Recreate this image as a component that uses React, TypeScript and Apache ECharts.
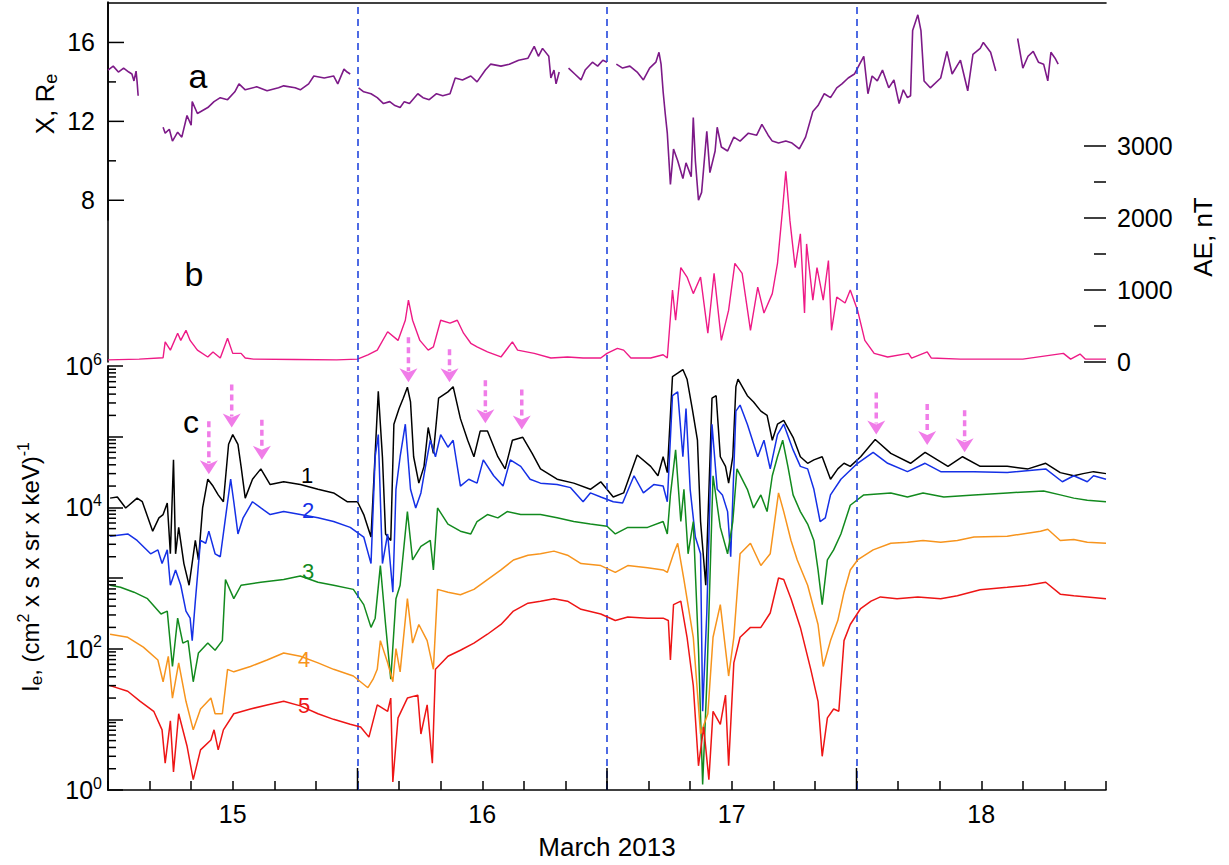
import React, { useEffect, useRef } from 'react';
import * as echarts from 'echarts';

const FONT = '"Liberation Sans", Arial, sans-serif';
const NARROW = '"Liberation Sans Narrow", "Liberation Sans", Arial, sans-serif';

// time axis: hours since 15 March 2013 00:00 UT
const dayTickHours = [12, 36, 60, 84];
const dayLabels = ['15', '16', '17', '18'];
const dayBoundaryHours = [24, 48, 72];

// (a) spacecraft X position, Re (null = data gap)
const xRe: [number, number | null][] = [
  [0.0, 14.6], [0.5, 14.8], [1.0, 14.5], [1.5, 14.7], [2.0, 14.5], [2.3, 14.4], [2.5, 14.05], [2.7, 14.55], [2.8, 14.0], [2.9, 13.3],
  [4.0, null],
  [5.3, 11.7], [5.5, 11.4], [5.9, 11.6], [6.2, 11.0], [6.7, 11.45], [7.1, 11.2], [7.6, 12.3], [8.0, 11.8], [8.1, 13.0], [8.6, 12.4],
  [9.6, 12.7], [10.2, 13.0], [10.8, 13.2], [11.5, 13.1], [12.2, 13.5], [12.6, 13.9], [13.2, 13.6], [14.3, 13.75], [15.3, 13.55],
  [16.4, 13.7], [16.9, 13.8], [18.0, 13.7], [18.5, 13.6], [19.3, 13.9], [19.8, 14.3], [20.8, 14.2], [21.7, 14.3], [22.1, 13.9],
  [22.7, 14.65], [23.0, 14.5], [23.3, 14.4],
  [23.7, null],
  [24.1, 13.7], [24.6, 13.5], [25.3, 13.4], [25.9, 13.2], [26.5, 12.9], [27.1, 13.0], [27.6, 12.8], [28.1, 12.7], [28.5, 13.0],
  [29.0, 12.9], [29.8, 13.4], [30.3, 13.2], [30.9, 13.1], [31.6, 13.4], [32.2, 13.3], [32.9, 13.4], [33.4, 14.2], [34.1, 14.1],
  [34.9, 14.3], [35.5, 14.0], [36.3, 14.6], [36.8, 14.9], [37.8, 14.8], [38.6, 14.9], [39.5, 15.1], [40.4, 15.2], [41.0, 15.8],
  [41.4, 15.3], [41.8, 15.7], [42.4, 15.3], [42.6, 14.2], [42.9, 14.6], [43.1, 13.9], [43.4, 14.5],
  [43.8, null],
  [44.3, 14.7], [44.9, 14.4], [45.5, 14.1], [45.9, 14.6], [46.6, 15.0], [47.1, 14.8], [47.6, 15.1], [48.0, 15.0],
  [48.4, null],
  [48.9, 14.9], [49.5, 14.7], [50.2, 14.8], [50.9, 14.5], [51.5, 14.1], [52.1, 14.7], [52.7, 15.0], [53.0, 15.5], [53.2, 14.9],
  [53.4, 13.5], [53.6, 12.4], [53.8, 11.4], [54.1, 8.8], [54.4, 10.6], [54.8, 10.0], [55.3, 9.1], [55.6, 9.9], [56.1, 9.2],
  [56.3, 12.2], [56.5, 10.0], [56.8, 8.0], [57.1, 8.4], [57.6, 11.5], [57.9, 9.4], [58.4, 10.5], [58.6, 11.7], [59.0, 10.7],
  [59.6, 10.5], [60.2, 11.2], [60.8, 11.0], [61.6, 11.4], [62.4, 11.3], [62.9, 11.85], [63.5, 11.3], [63.9, 11.0], [64.5, 10.9],
  [65.2, 11.0], [65.8, 10.9], [66.5, 10.6], [67.1, 11.2], [67.8, 12.5], [68.3, 12.8], [68.9, 13.4], [69.5, 13.2], [70.1, 13.7],
  [70.6, 13.9], [71.2, 14.2], [71.8, 14.4], [72.3, 14.9], [72.7, 15.3], [73.1, 13.4], [73.5, 14.3], [74.0, 14.05], [74.5, 14.6],
  [75.1, 13.7], [75.6, 14.1], [76.1, 12.9], [76.5, 13.6], [76.9, 13.2], [77.2, 13.3], [77.4, 16.6], [77.9, 17.4], [78.2, 16.6],
  [78.5, 14.05], [79.1, 13.7], [80.1, 14.2], [80.7, 15.55], [81.2, 14.4], [82.0, 15.1], [82.7, 13.55], [83.2, 15.4], [83.9, 15.7],
  [84.2, 16.0], [84.9, 15.5], [85.4, 14.55],
  [86.5, null],
  [87.5, 16.2], [88.0, 14.7], [88.5, 15.3], [89.0, 15.55], [89.5, 15.0], [90.0, 14.9], [90.4, 14.05], [90.7, 15.5], [91.1, 15.2],
  [91.4, 14.9],
];

// (b) AE index, nT
const aeIndex: [number, number][] = [
  [0, 30], [3.0, 40], [5.3, 60], [5.5, 280], [6.0, 165], [6.7, 400], [7.0, 300], [7.5, 440], [7.9, 300], [8.6, 165], [9.6, 70],
  [10.1, 140], [10.8, 55], [11.5, 330], [12.0, 120], [12.8, 120], [13.2, 55], [14.0, 40], [18.0, 35], [22.0, 30], [24.0, 40],
  [25.0, 100], [25.9, 165], [26.9, 420], [27.9, 300], [28.6, 580], [28.9, 860], [29.3, 580], [30.0, 300], [30.8, 165], [31.3, 210],
  [32.0, 580], [32.9, 540], [33.6, 580], [34.2, 400], [34.9, 260], [35.5, 210], [36.5, 140], [37.8, 70], [38.9, 280], [39.4, 165],
  [41.0, 120], [42.6, 55], [44.2, 70], [45.7, 55], [47.4, 55], [48.0, 120], [49.0, 190], [49.6, 165], [50.3, 55], [52.2, 55],
  [53.4, 100], [53.8, 55], [54.3, 1000], [54.6, 580], [55.1, 1310], [55.7, 1180], [56.3, 950], [57.0, 1180], [57.7, 400],
  [58.3, 1230], [59.0, 300], [59.7, 720], [60.3, 1370], [61.0, 1230], [61.8, 440], [62.5, 1040], [63.1, 680], [63.9, 950],
  [64.4, 1370], [64.9, 2140], [65.2, 2650], [65.6, 1960], [66.1, 1310], [66.6, 1780], [67.0, 680], [67.2, 1640], [67.8, 860],
  [68.2, 1310], [68.8, 860], [69.3, 1410], [69.6, 440], [70.1, 900], [70.9, 820], [71.4, 1000], [72.1, 720], [72.8, 300],
  [73.7, 120], [75.0, 70], [77.0, 120], [77.3, 55], [78.8, 140], [79.2, 55], [82.0, 40], [88.0, 40], [91.9, 120], [92.6, 40],
  [93.5, 110], [94.0, 40], [96.0, 40],
];

// (c) electron fluxes, (cm^2 s sr keV)^-1, channels 1..5
const flux1: [number, number][] = [
  [0.2, 1.35e4], [0.9, 1.4e4], [1.7, 9.8e3], [2.8, 1.35e4], [3.3, 1.2e4], [4.3, 4.6e3], [4.9, 7.1e3], [5.3, 7.9e3], [5.7, 1.15e4],
  [6.0, 2.2e3], [6.3, 4.7e4], [6.5, 2.2e3], [6.8, 5.2e3], [7.3, 1.6e3], [7.8, 790], [8.4, 3.4e3], [8.7, 1.8e3], [9.1, 9.8e3],
  [9.6, 2.5e4], [10.1, 2.0e4], [10.6, 1.5e4], [11.1, 1.2e4], [11.6, 7.8e4], [12.0, 1.07e5], [12.5, 7.8e4], [12.8, 3.8e4],
  [13.2, 1.35e4], [13.9, 2.5e4], [14.7, 3.5e4], [15.6, 2.1e4], [16.9, 2.3e4], [18.5, 2.1e4], [20.2, 1.8e4], [21.7, 1.6e4],
  [23.0, 1.2e4], [24.0, 1.2e4], [24.6, 7.9e3], [25.3, 3.8e3], [25.7, 5.8e4], [26.0, 4.4e5], [26.4, 5.1e4], [26.7, 4.2e3],
  [27.2, 3.4e3], [27.5, 1.5e5], [28.0, 2.5e5], [28.4, 3.5e5], [28.8, 5.0e5], [29.1, 3.1e5], [29.4, 5.2e4], [29.9, 2.2e4],
  [30.4, 3.8e4], [30.8, 1.35e5], [31.3, 5.8e4], [31.8, 3.5e5], [32.7, 4.3e5], [33.2, 5.1e5], [33.9, 1.8e5], [34.6, 8.9e4],
  [35.2, 5.2e4], [35.8, 1.2e5], [36.5, 1.2e5], [37.5, 5.2e4], [38.2, 3.5e4], [38.9, 8.9e4], [39.9, 9.8e4], [40.8, 5.8e4],
  [41.6, 3.5e4], [43.2, 2.5e4], [44.8, 2.2e4], [46.4, 1.8e4], [47.4, 2.3e4], [48.6, 1.4e4], [49.6, 1.6e4], [50.9, 5.5e4],
  [52.2, 3.8e4], [52.9, 2.8e4], [53.4, 5.2e4], [53.8, 3.1e4], [54.3, 7.1e5], [54.8, 7.9e5], [55.3, 8.9e5], [55.7, 6.5e5],
  [56.2, 2.5e5], [56.7, 8.9e4], [57.0, 6.3e3], [57.5, 790], [58.1, 3.5e5], [58.5, 3.8e5], [58.9, 5.2e4], [59.4, 3.8e4],
  [59.7, 2.2e4], [60.1, 5.2e4], [60.4, 5.1e5], [60.6, 6.5e5], [61.5, 3.8e5], [62.1, 3.1e5], [62.8, 2.3e5], [63.4, 2.0e5],
  [63.9, 8.9e4], [64.4, 1.5e5], [65.0, 1.7e5], [65.9, 9.8e4], [66.6, 5.2e4], [67.3, 4.2e4], [67.9, 4.7e4], [68.7, 5.2e4],
  [69.5, 2.5e4], [70.2, 3.5e4], [70.8, 4.2e4], [71.4, 3.8e4], [72.4, 5.2e4], [73.8, 9.1e4], [75.3, 5.8e4], [77.2, 4.2e4],
  [78.6, 6.0e4], [80.8, 3.8e4], [82.2, 5.2e4], [83.9, 3.8e4], [86.5, 3.8e4], [88.5, 3.5e4], [90.2, 4.2e4], [91.6, 3.1e4],
  [92.9, 2.8e4], [93.8, 3.0e4], [94.8, 3.2e4], [96.0, 3.0e4],
];

const flux2: [number, number][] = [
  [0.2, 3.9e3], [1.9, 4.2e3], [2.8, 3.4e3], [4.1, 2.2e3], [4.8, 2.5e3], [5.2, 1.6e3], [5.7, 2.5e3], [6.0, 790], [6.5, 1.3e3],
  [7.0, 790], [7.5, 340], [7.9, 270], [8.1, 130], [8.4, 470], [8.9, 3.4e3], [9.4, 3.1e3], [9.7, 4.6e3], [10.3, 2.2e3],
  [10.8, 2.0e3], [11.3, 7.1e3], [11.8, 2.5e4], [12.1, 1.2e4], [12.5, 4.2e3], [13.0, 7.1e3], [13.9, 1.2e4], [14.7, 9.8e3],
  [15.6, 7.9e3], [16.9, 8.7e3], [18.5, 7.9e3], [20.2, 7.1e3], [21.7, 6.3e3], [23.3, 5.2e3], [24.6, 3.8e3], [25.3, 1.6e3],
  [25.7, 5.2e4], [26.0, 1.07e5], [26.4, 1.6e3], [26.9, 4.2e3], [27.4, 630], [27.7, 1.8e4], [28.1, 5.2e4], [28.6, 1.5e5],
  [29.1, 1.8e4], [29.6, 9.8e3], [30.1, 1.6e4], [30.5, 3.5e4], [31.0, 8.9e4], [31.5, 5.2e4], [32.0, 1.07e5], [32.7, 7.1e4],
  [33.2, 8.9e4], [33.9, 2.0e4], [34.7, 2.5e4], [35.5, 2.2e4], [36.1, 4.7e4], [37.1, 2.8e4], [38.0, 2.0e4], [38.7, 4.7e4],
  [39.7, 3.8e4], [40.6, 2.5e4], [41.6, 2.2e4], [43.2, 2.1e4], [44.5, 1.9e4], [45.7, 1.2e4], [46.4, 1.6e4], [47.4, 1.4e4],
  [48.6, 1.2e4], [49.5, 1.15e4], [50.6, 2.8e4], [51.5, 1.6e4], [52.5, 2.1e4], [53.4, 2.0e4], [53.8, 1.2e4], [54.3, 3.8e5],
  [54.8, 4.3e5], [55.3, 5.2e4], [55.6, 2.5e5], [56.0, 1.8e4], [56.5, 3.8e3], [57.0, 2.2e3], [57.2, 13], [57.6, 320],
  [58.1, 1.5e5], [58.6, 1.8e4], [59.1, 1.5e4], [59.6, 8.7e3], [59.9, 2.0e3], [60.4, 2.3e5], [60.8, 2.8e5], [61.5, 1.5e5],
  [62.5, 5.2e4], [63.1, 8.9e4], [63.7, 3.5e4], [64.4, 1.07e5], [65.0, 1.5e5], [65.9, 6.5e4], [66.6, 3.8e4], [67.3, 3.5e4],
  [67.9, 1.8e4], [68.5, 6.3e3], [69.0, 7.1e3], [69.5, 1.5e4], [70.5, 2.5e4], [72.1, 4.2e4], [73.6, 6.0e4], [75.0, 4.2e4],
  [76.9, 3.2e4], [78.6, 4.2e4], [80.1, 3.2e4], [83.3, 3.2e4], [86.5, 3.1e4], [90.2, 3.5e4], [91.8, 2.3e4], [92.9, 2.8e4],
  [94.2, 2.3e4], [94.8, 2.8e4], [96.0, 2.5e4],
];

const flux3: [number, number][] = [
  [0.2, 790], [1.2, 740], [2.5, 630], [3.8, 510], [5.1, 310], [5.7, 340], [6.2, 56], [6.7, 270], [7.2, 120], [7.7, 130],
  [8.2, 34], [8.7, 87], [9.6, 120], [10.3, 95], [11.0, 130], [11.3, 950], [12.1, 510], [12.8, 790], [14.7, 870], [16.9, 950],
  [18.5, 1.07e3], [20.2, 870], [21.7, 790], [23.6, 690], [24.6, 420], [25.3, 200], [25.7, 270], [26.2, 1.5e3], [26.7, 220],
  [27.2, 37], [27.7, 510], [28.1, 790], [28.8, 8.7e3], [29.3, 1.8e3], [30.1, 2.8e3], [31.0, 3.4e3], [31.3, 1.3e3], [31.7, 9.8e3],
  [32.7, 5.8e3], [33.9, 4.6e3], [34.9, 4.2e3], [35.5, 6.3e3], [36.5, 7.9e3], [37.5, 7.1e3], [38.4, 8.7e3], [39.7, 7.9e3],
  [41.6, 7.9e3], [43.2, 7.1e3], [44.8, 6.3e3], [46.4, 5.8e3], [48.0, 5.4e3], [48.8, 4.2e3], [50.0, 5.2e3], [51.9, 5.2e3],
  [53.4, 6.3e3], [53.8, 4.2e3], [54.1, 1.5e4], [54.6, 6.5e4], [55.1, 6.3e3], [55.4, 1.8e4], [55.8, 2.2e3], [56.3, 6.3e3],
  [56.8, 100], [57.2, 1.2], [57.6, 32], [58.2, 2.8e4], [58.9, 5.2e3], [59.6, 2.2e3], [60.1, 6.3e3], [60.5, 3.5e4],
  [61.5, 1.8e4], [62.1, 9.8e3], [62.8, 1.5e4], [63.4, 8.7e3], [63.9, 2.8e4], [64.4, 5.2e4], [64.9, 8.9e4], [65.4, 3.8e4],
  [65.9, 1.5e4], [66.6, 8.7e3], [67.3, 5.8e3], [67.9, 3.4e3], [68.3, 1.3e3], [68.7, 420], [69.2, 1.8e3], [69.8, 2.5e3],
  [70.5, 4.2e3], [71.4, 1.07e4], [72.7, 1.5e4], [75.3, 1.6e4], [76.9, 1.4e4], [78.4, 1.6e4], [80.4, 1.4e4], [83.3, 1.5e4],
  [86.5, 1.6e4], [90.0, 1.7e4], [91.6, 1.5e4], [92.9, 1.35e4], [94.2, 1.26e4], [96.0, 1.2e4],
];

const flux4: [number, number][] = [
  [0.2, 160], [1.9, 145], [3.4, 105], [4.8, 69], [5.3, 34], [5.8, 78], [6.2, 20], [6.8, 63], [7.5, 18], [8.2, 7.1], [8.9, 14],
  [9.9, 20], [10.3, 12], [11.0, 12], [11.5, 51], [12.1, 47], [13.7, 56], [15.3, 69], [16.9, 87], [18.5, 78], [20.2, 63],
  [21.7, 51], [23.6, 41], [25.0, 28], [25.5, 37], [25.9, 51], [26.2, 130], [26.9, 63], [27.4, 34], [27.7, 100], [28.1, 47],
  [28.8, 510], [29.3, 120], [29.9, 220], [30.7, 130], [31.3, 51], [31.7, 690], [32.7, 630], [33.9, 580], [35.2, 690],
  [36.5, 950], [37.8, 1.3e3], [39.0, 1.8e3], [40.4, 2.1e3], [41.6, 2.2e3], [42.9, 2.4e3], [44.2, 2.1e3], [45.5, 1.6e3],
  [47.4, 1.5e3], [48.8, 1.2e3], [50.0, 1.5e3], [51.9, 1.4e3], [53.4, 1.3e3], [53.8, 1.2e3], [54.4, 2.2e3], [54.8, 3.1e3],
  [55.4, 950], [56.3, 145], [57.0, 6.2], [57.7, 12], [58.2, 145], [58.9, 420], [59.7, 41], [60.2, 145], [60.8, 2.2e3],
  [61.8, 3.1e3], [62.8, 1.5e3], [63.7, 2.2e3], [64.5, 1.6e4], [65.0, 8.7e3], [65.7, 3.4e3], [66.3, 1.8e3], [67.3, 790],
  [68.3, 220], [68.8, 56], [69.5, 130], [70.2, 250], [70.8, 630], [71.4, 1.3e3], [72.1, 1.8e3], [73.6, 2.5e3], [75.3, 3.1e3],
  [76.9, 3.2e3], [78.4, 3.4e3], [80.1, 3.2e3], [81.7, 3.4e3], [83.3, 3.8e3], [86.5, 3.9e3], [89.7, 4.6e3], [90.4, 4.9e3],
  [91.6, 3.4e3], [92.9, 3.5e3], [94.2, 3.2e3], [96.0, 3.1e3],
];

const flux5: [number, number][] = [
  [0.2, 30], [1.9, 25], [3.1, 18], [4.4, 13], [5.2, 7.1], [5.5, 2.4], [6.0, 9.5], [6.3, 1.8], [6.8, 12], [7.6, 4.2], [8.2, 1.4],
  [8.9, 3.7], [9.9, 5.1], [10.2, 7.1], [10.6, 3.7], [11.1, 7.1], [12.1, 12], [13.7, 14], [15.3, 16], [16.9, 18], [18.5, 15.5],
  [20.2, 12], [21.7, 10], [23.3, 8.5], [24.3, 7.8], [25.1, 5.6], [25.9, 16], [26.9, 13], [27.2, 20], [27.4, 1.3], [27.9, 10.5],
  [28.8, 20], [29.8, 22], [30.1, 6.2], [30.7, 16], [31.2, 2.4], [31.5, 51], [32.7, 78], [33.9, 95], [35.2, 120], [36.5, 160],
  [37.8, 220], [39.0, 340], [40.4, 440], [41.6, 470], [42.9, 510], [44.2, 470], [45.5, 360], [47.4, 310], [48.8, 250],
  [50.0, 280], [51.9, 270], [53.4, 270], [53.9, 250], [54.1, 69], [54.4, 420], [55.1, 470], [55.7, 145], [56.3, 30], [56.8, 2.2],
  [57.3, 7.8], [57.8, 1.4], [58.2, 13], [58.9, 8.5], [59.4, 22], [59.7, 2.2], [60.2, 63], [60.8, 145], [61.8, 200], [62.8, 200],
  [63.7, 320], [64.5, 1.0e3], [65.0, 950], [65.7, 510], [66.6, 200], [67.6, 51], [68.3, 18], [68.7, 3.0], [69.2, 10.5],
  [69.8, 14], [70.3, 13], [70.8, 130], [71.4, 220], [72.4, 370], [73.4, 470], [74.3, 540], [75.9, 510], [77.9, 540],
  [80.1, 510], [81.7, 560], [83.9, 680], [86.5, 740], [88.5, 790], [90.2, 870], [91.6, 590], [92.9, 560], [94.2, 540],
  [96.0, 510],
];

// pink arrows marking flux enhancements: time (h), flux at arrow tip
const arrowHours = [9.7, 11.9, 14.8, 28.9, 32.85, 36.3, 39.8, 73.9, 78.8, 82.4];
const arrowFlux = [2.95e4, 1.35e5, 4.7e4, 5.9e5, 5.9e5, 1.55e5, 1.26e5, 1.07e5, 7.6e4, 6.0e4];
const arrowLen = [53, 43, 40, 45, 33, 43, 40, 42, 41, 42];

const channelNames = ['1', '2', '3', '4', '5'];
const channelColors = ['#000000', '#1530e6', '#128a1e', '#f7941d', '#ee1515'];

const xTickMajor = [8, 12, 16];
const xTickMinor = [10, 14];
const aeTickMajor = [0, 1000, 2000, 3000];
const aeTickMinor = [500, 1500, 2500];

function tickSeries(xi: number, yi: number, data: number[][], dx: number, dy: number) {
  return {
    type: 'custom',
    xAxisIndex: xi,
    yAxisIndex: yi,
    data,
    clip: false,
    silent: true,
    z: 20,
    renderItem: (_p: any, api: any) => {
      const p = api.coord([api.value(0), api.value(1)]);
      return {
        type: 'line',
        shape: { x1: p[0], y1: p[1], x2: p[0] + dx, y2: p[1] + dy },
        style: { stroke: '#000', lineWidth: 1.5 },
      };
    },
  };
}

export default function App() {
  const ref = useRef<HTMLDivElement>(null);

  useEffect(() => {
    document.body.style.margin = '0';
    const chart = echarts.init(ref.current!, null, { renderer: 'svg' });

    const fluxMinor: number[][] = [];
    for (let e = 0; e < 6; e++) for (let m = 2; m <= 9; m++) fluxMinor.push([0, m * Math.pow(10, e)]);

    const dashLine = {
      silent: true,
      symbol: ['none', 'none'],
      label: { show: false },
      lineStyle: { color: '#2446dc', type: [7, 5], width: 1.6 },
      data: dayBoundaryHours.map((h) => ({ xAxis: h })),
    };

    const axisLineStyle = { color: '#000', width: 1.6 };
    const fluxSeries = [flux1, flux2, flux3, flux4, flux5].map((d, i) => ({
      type: 'line',
      name: channelNames[i],
      xAxisIndex: 2,
      yAxisIndex: 2,
      data: d,
      showSymbol: false,
      lineStyle: { color: channelColors[i], width: 1.5 },
      z: 2 + i,
      ...(i === 0 ? { markLine: dashLine } : {}),
    }));

    const option: any = {
      animation: false,
      backgroundColor: '#fff',
      grid: [
        { left: 108, top: 3, width: 998, height: 217 },
        { left: 108, top: 2, width: 998, height: 360 },
        { left: 108, top: 366, width: 998, height: 439 },
      ],
      xAxis: [
        {
          gridIndex: 0, type: 'value', min: 0, max: 96, position: 'top',
          axisLine: { show: true, lineStyle: axisLineStyle }, axisTick: { show: false }, axisLabel: { show: false }, splitLine: { show: false },
        },
        { gridIndex: 1, type: 'value', min: 0, max: 96, show: false, splitLine: { show: false } },
        {
          gridIndex: 2, type: 'value', min: 0, max: 96, interval: 4, position: 'bottom',
          axisLine: { show: true, onZero: false, lineStyle: axisLineStyle },
          axisTick: { show: true, inside: true, length: 9, lineStyle: { color: '#000', width: 1.5 } },
          axisLabel: {
            formatter: (v: number) => {
              const i = dayTickHours.indexOf(v);
              return i >= 0 ? dayLabels[i] : '';
            },
            fontSize: 25, color: '#000', fontFamily: NARROW, margin: 11,
          },
          splitLine: { show: false },
          name: 'March 2013', nameLocation: 'middle', nameGap: 44,
          nameTextStyle: { fontSize: 26, color: '#000', fontFamily: NARROW },
        },
      ],
      yAxis: [
        {
          gridIndex: 0, type: 'value', min: 7, max: 18, interval: 1, position: 'left',
          axisLine: { show: true, lineStyle: axisLineStyle }, axisTick: { show: false },
          axisLabel: {
            formatter: (v: number) => (xTickMajor.includes(v) ? String(v) : ''),
            fontSize: 25, color: '#000', fontFamily: FONT, margin: 13,
          },
          splitLine: { show: false },
        },
        {
          gridIndex: 1, type: 'value', min: 0, max: 5000, interval: 1000, position: 'right',
          axisLine: { show: true, lineStyle: axisLineStyle }, axisTick: { show: false },
          axisLabel: {
            formatter: (v: number) => (v <= 3000 ? String(v) : ''),
            fontSize: 25, color: '#000', fontFamily: FONT, margin: 11,
          },
          splitLine: { show: false },
        },
        {
          gridIndex: 2, type: 'log', min: 1, max: 1e6, splitNumber: 6, position: 'left',
          axisLine: { show: true, onZero: false, lineStyle: axisLineStyle },
          axisTick: { show: true, inside: true, length: 15, lineStyle: { color: '#000', width: 1.5 } },
          axisLabel: {
            formatter: (v: number) => {
              const e = Math.round(Math.log10(v));
              return e % 2 === 0 ? `{b|10}{p|${e}}` : '';
            },
            margin: 6,
            rich: {
              b: { fontSize: 25, color: '#000', fontFamily: FONT },
              p: { fontSize: 16, color: '#000', fontFamily: FONT, padding: [0, 0, 14, 0] },
            },
          },
          splitLine: { show: false },
        },
        {
          gridIndex: 2, type: 'value', min: 0, max: 1, position: 'right',
          axisLine: { show: true, lineStyle: axisLineStyle }, axisTick: { show: false }, axisLabel: { show: false },
          splitLine: { show: false },
        },
      ],
      series: [
        {
          type: 'line', name: 'X', xAxisIndex: 0, yAxisIndex: 0, data: xRe, showSymbol: false, connectNulls: false,
          lineStyle: { color: '#7d1a88', width: 1.6 }, z: 3,
        },
        {
          type: 'line', name: 'AE', xAxisIndex: 1, yAxisIndex: 1, data: aeIndex, showSymbol: false,
          lineStyle: { color: '#ee1a86', width: 1.4 }, z: 3, markLine: dashLine,
        },
        ...fluxSeries,
        tickSeries(0, 0, xTickMajor.map((v) => [0, v]), 16, 0),
        tickSeries(0, 0, xTickMinor.map((v) => [0, v]), 8, 0),
        tickSeries(1, 1, aeTickMajor.map((v) => [96, v]), -22, 0),
        tickSeries(1, 1, aeTickMinor.map((v) => [96, v]), -12, 0),
        tickSeries(2, 2, fluxMinor, 8, 0),
        tickSeries(2, 2, dayBoundaryHours.map((h) => [h, 1]), 0, -22),
      ],
    };
    chart.setOption(option);

    const arrows: any[] = arrowHours.map((h, i) => {
      const p = chart.convertToPixel({ gridIndex: 2 }, [h, arrowFlux[i]]) as number[];
      const len = arrowLen[i];
      return {
        type: 'group', x: p[0], y: p[1], z: 50,
        children: [
          { type: 'line', shape: { x1: 0, y1: -len, x2: 0, y2: -11 }, style: { stroke: '#f07ce8', lineWidth: 3.5, lineDash: [6, 4] } },
          { type: 'polygon', shape: { points: [[-9, -14], [0, -10], [9, -14], [0, 0]] }, style: { fill: '#f07ce8' } },
        ],
      };
    });

    const txt = (text: string, x: number, y: number, size: number, color = '#000') => ({
      type: 'text', x, y, z: 60,
      style: { text, fill: color, fontSize: size, fontFamily: FONT, align: 'center', verticalAlign: 'middle' },
    });

    const graphic: any[] = [
      ...arrows,
      txt('a', 198, 76, 34),
      txt('b', 194, 274, 34),
      txt('c', 191, 422, 32),
      txt('1', 307, 475, 22, channelColors[0]),
      txt('2', 308, 510, 22, channelColors[1]),
      txt('3', 308, 571, 22, channelColors[2]),
      txt('4', 304, 659, 22, channelColors[3]),
      txt('5', 304, 705, 22, channelColors[4]),
      {
        type: 'text', x: 45, y: 104, rotation: Math.PI / 2, z: 60,
        style: {
          text: '{n|X, R}{s|e}', align: 'center', verticalAlign: 'middle',
          rich: {
            n: { fontSize: 26, fill: '#000', fontFamily: FONT },
            s: { fontSize: 18, fill: '#000', fontFamily: FONT, padding: [12, 0, 0, 0] },
          },
        },
      },
      {
        type: 'text', x: 1203, y: 237, rotation: Math.PI / 2, z: 60,
        style: { text: 'AE, nT', fill: '#000', fontSize: 26, fontFamily: FONT, align: 'center', verticalAlign: 'middle' },
      },
      {
        type: 'text', x: 30, y: 567, rotation: Math.PI / 2, z: 60,
        style: {
          text: '{n|I}{s|e}{n|, (cm}{p|2}{n| x s x sr x keV)}{p|-1}', align: 'center', verticalAlign: 'middle',
          rich: {
            n: { fontSize: 24, fill: '#000', fontFamily: FONT },
            s: { fontSize: 17, fill: '#000', fontFamily: FONT, padding: [12, 0, 0, 0] },
            p: { fontSize: 16, fill: '#000', fontFamily: FONT, padding: [0, 0, 14, 0] },
          },
        },
      },
    ];
    chart.setOption({ graphic });

    return () => chart.dispose();
  }, []);

  return <div ref={ref} style={{ position: 'absolute', left: 0, top: 0, width: 1229, height: 865 }} />;
}
